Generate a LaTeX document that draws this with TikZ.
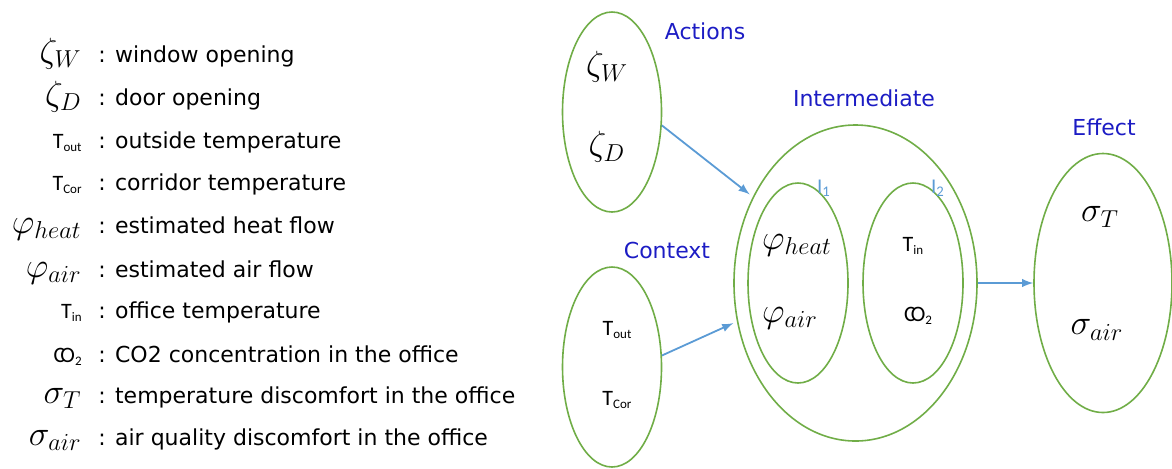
\RequirePackage{fix-cm}
\documentclass[tikz,border=0pt]{standalone}
\usepackage[no-math]{fontspec}
\setmainfont{DejaVu Sans}
\newfontfamily\carl{Carlito}
\usepackage{tikz}
\usetikzlibrary{arrows, shapes.geometric, positioning}

\definecolor{grpgreen}{RGB}{112,173,71}
\definecolor{arrblue}{RGB}{91,155,213}
\definecolor{ttlblue}{RGB}{28,28,196}
\newcommand{\tsub}[2]{{\carl\fontsize{11}{12}\selectfont #1\raisebox{-1.6pt}{\fontsize{6.5}{7}\selectfont #2}}}
\newcommand{\varsym}[1]{{\fontsize{17.5}{20}\selectfont$#1$}}

\begin{document}
\begin{tikzpicture}[x=0.5pt, y=-0.5pt, >=latex,
    grp/.style={ellipse, draw=grpgreen, line width=0.8pt, inner sep=0pt},
    ttl/.style={text=ttlblue, font=\fontsize{11}{13}\selectfont},
    idx/.style={text=arrblue, font=\carl\fontsize{10.5}{11}\selectfont}]
                        \useasboundingbox (0,0) rectangle (1172,468);
                        \foreach \y/\s/\t [count=\i] in {
                            62/{\varsym{\zeta_W}}/{window opening},
                            105/{\varsym{\zeta_D}}/{door opening},
                            148/{\tsub{T}{out}}/{outside temperature},
                            190/{\tsub{T}{Cor}}/{corridor temperature},
                            233/{\varsym{\varphi_{heat}}}/{estimated heat flow},
                            277/{\varsym{\varphi_{air}}}/{estimated air flow},
                            318/{\tsub{T}{in}}/{office temperature},
                            362/{\tsub{C\kern-2.5pt O}{2}}/{CO2 concentration in the office},
                            403/{\varsym{\sigma_T}}/{temperature discomfort in the office},
                            445/{\varsym{\sigma_{air}}}/{air quality discomfort in the office}} {
                            \node[anchor=base east, inner sep=0pt] (sym-\i) at (82, \y) {\s};
                            \node[anchor=base west, inner sep=0pt, font=\fontsize{11}{13}\selectfont] (txt-\i) at (98, \y) {: \t};
                        }

                        \node[grp, minimum width=49.5pt, minimum height=100pt] (act) at (612, 112) {};
                        \node[grp, minimum width=49.5pt, minimum height=100pt] (ctx) at (612, 367) {};
                        \node[grp, minimum width=121.5pt, minimum height=158pt] (inter) at (855.5, 283) {};
                        \node[grp, minimum width=50pt, minimum height=100pt] (ione) at (798, 283) {};
                        \node[grp, minimum width=50pt, minimum height=100pt] (itwo) at (913, 283) {};
                        \node[grp, minimum width=69pt, minimum height=129.5pt] (eff) at (1103, 283) {};

                        \node[ttl] (act-t) at (705, 31) {Actions};
                        \node[ttl] (ctx-t) at (667, 250) {Context};
                        \node[ttl] (inter-t) at (864, 98) {Intermediate};
                        \node[ttl] (eff-t) at (1104, 127) {Effect};
                        \node[idx] (ione-t) at (824, 188) {I\textsubscript{1}};
                        \node[idx] (itwo-t) at (938, 188) {I\textsubscript{2}};

                        \node[] (zw) at (607, 67) {\varsym{\zeta_W}};
                        \node[] (zd) at (607, 147) {\varsym{\zeta_D}};
                        \node[] (tout) at (617, 330) {\tsub{T}{out}};
                        \node[] (tcor) at (617, 400) {\tsub{T}{Cor}};
                        \node[] (ph) at (797, 245) {\varsym{\varphi_{heat}}};
                        \node[] (pa) at (790, 318) {\varsym{\varphi_{air}}};
                        \node[] (tin) at (913, 246) {\tsub{T}{in}};
                        \node[] (co) at (918, 316) {\tsub{C\kern-2.5pt O}{2}};
                        \node[] (st) at (1100, 217) {\varsym{\sigma_T}};
                        \node[] (sa) at (1097, 330) {\varsym{\sigma_{air}}};

                        \draw[arrblue, line width=0.9pt]
                        (act.-15) edge[->, shorten >=2pt] (inter.140)
                        (ctx.13) edge[->, shorten >=2pt] (inter.-162)
                        (inter.east) edge[->] (eff.west);
                    \end{tikzpicture}
\end{document}
